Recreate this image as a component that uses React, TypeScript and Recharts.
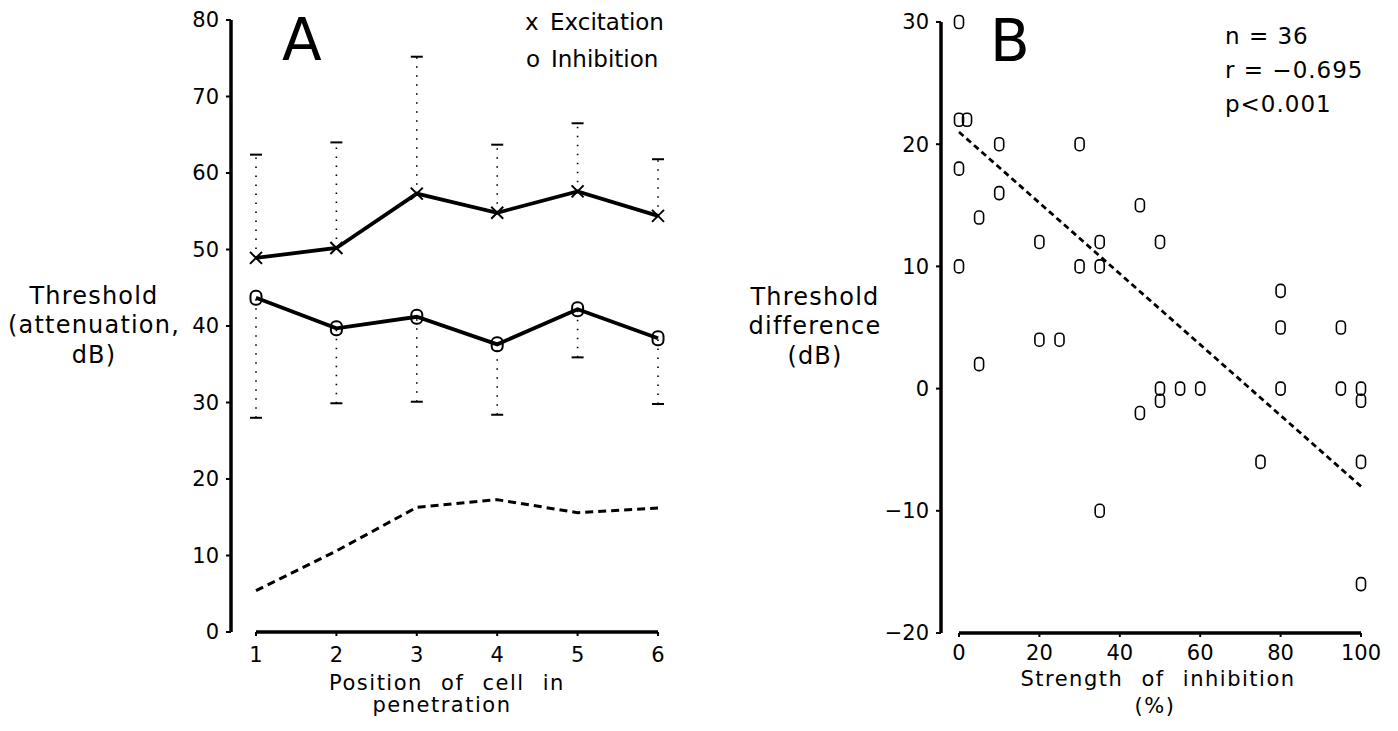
import { ComposedChart, ScatterChart, Line, Scatter, XAxis, YAxis, ErrorBar, ReferenceLine } from 'recharts'

const FONT = '"DejaVu Sans", sans-serif'
const INK = '#000'

// panel A: threshold by position of cell in penetration
const positions = [1, 2, 3, 4, 5, 6]
const excitation = [48.9, 50.2, 57.3, 54.8, 57.6, 54.4]
const excitationUpper = [62.4, 64.0, 75.2, 63.7, 66.5, 61.8]
const inhibition = [43.7, 39.7, 41.2, 37.6, 42.2, 38.4]
const inhibitionLower = [28.0, 29.9, 30.1, 28.4, 35.9, 29.8]
const dashedLine = [5.4, 10.6, 16.3, 17.3, 15.6, 16.2]
const ticksA = [0, 10, 20, 30, 40, 50, 60, 70, 80]

// panel B: threshold difference vs strength of inhibition
const strength = [0, 0, 2, 10, 30, 0, 10, 5, 45, 20, 35, 50, 0, 30, 35, 80, 80, 95, 5, 20, 25, 50, 50, 55, 60, 45, 80, 95, 100, 100, 75, 100, 35, 100]
const difference = [30, 22, 22, 20, 20, 18, 16, 14, 15, 12, 12, 12, 10, 10, 10, 8, 5, 5, 2, 4, 4, 0, -1, 0, 0, -2, 0, 0, 0, -1, -6, -6, -10, -16]
const regressionX = [0, 100]
const regressionY = [21, -8]
const ticksBx = [0, 20, 40, 60, 80, 100]
const ticksBy = [-20, -10, 0, 10, 20, 30]

const rowsA = positions.map((pos, i) => ({
  pos,
  exc: excitation[i],
  excErr: [0, excitationUpper[i] - excitation[i]],
  excTop: excitationUpper[i],
  inh: inhibition[i],
  inhErr: [inhibition[i] - inhibitionLower[i], 0],
  inhBottom: inhibitionLower[i],
  dashed: dashedLine[i],
}))

const rowsB = strength.map((x, i) => ({ x, y: difference[i] }))

const tickStyle = { fontSize: 21, fill: INK, fontFamily: FONT }
const minus = (v: number) => String(v).replace('-', '\u2212')

function CrossDot(props: any) {
  const { cx, cy, index } = props
  if (cx == null || cy == null) return <g key={`c-${index}`} />
  return (
    <g key={`c-${index}`}>
      <line x1={cx - 6} y1={cy - 6} x2={cx + 6} y2={cy + 6} stroke={INK} strokeWidth={2} />
      <line x1={cx - 6} y1={cy + 6} x2={cx + 6} y2={cy - 6} stroke={INK} strokeWidth={2} />
    </g>
  )
}

function RingDot(props: any) {
  const { cx, cy, index } = props
  if (cx == null || cy == null) return <g key={`r-${index}`} />
  return <rect key={`r-${index}`} x={cx - 5.5} y={cy - 7} width={11} height={14} rx={5} fill="none" stroke={INK} strokeWidth={2} />
}

function Cap(props: any) {
  const { cx, cy } = props
  return <line x1={cx - 6} x2={cx + 6} y1={cy} y2={cy} stroke={INK} strokeWidth={2} />
}

function ZeroMark(props: any) {
  const { cx, cy } = props
  return <rect x={cx - 4.5} y={cy - 6.5} width={9} height={13} rx={4} fill="none" stroke={INK} strokeWidth={1.6} />
}

function PanelA() {
  return (
    <ComposedChart
      width={700}
      height={731}
      data={rowsA}
      margin={{ top: 20, right: 42, bottom: 59, left: 171 }}
      style={{ position: 'absolute', left: 0, top: 0 }}
    >
      <XAxis
        type="number"
        dataKey="pos"
        domain={[1, 6]}
        ticks={positions}
        padding={{ left: 25, right: 0 }}
        axisLine={false}
        tickLine={{ stroke: INK, strokeWidth: 2 }}
        tickSize={4}
        tickMargin={11}
        height={40}
        tick={tickStyle}
      />
      <YAxis
        type="number"
        domain={[0, 80]}
        ticks={ticksA}
        width={60}
        axisLine={{ stroke: INK, strokeWidth: 3.5 }}
        tickLine={{ stroke: INK, strokeWidth: 2 }}
        tickSize={5}
        tickMargin={7}
        tick={tickStyle}
      />
      <ReferenceLine segment={[{ x: 1, y: 0 }, { x: 6, y: 0 }]} stroke={INK} strokeWidth={3.5} ifOverflow="visible" />
      <Line dataKey="dashed" type="linear" stroke={INK} strokeWidth={3} strokeDasharray="8 5" dot={false} isAnimationActive={false} />
      <Line dataKey="exc" type="linear" stroke={INK} strokeWidth={3.8} dot={CrossDot} isAnimationActive={false}>
        <ErrorBar dataKey="excErr" direction="y" width={0} stroke={INK} strokeWidth={1.6} strokeDasharray="1.5 7.5" isAnimationActive={false} />
      </Line>
      <Line dataKey="inh" type="linear" stroke={INK} strokeWidth={3.8} dot={RingDot} isAnimationActive={false}>
        <ErrorBar dataKey="inhErr" direction="y" width={0} stroke={INK} strokeWidth={1.6} strokeDasharray="1.5 7.5" isAnimationActive={false} />
      </Line>
      <Scatter dataKey="excTop" shape={Cap} isAnimationActive={false} legendType="none" />
      <Scatter dataKey="inhBottom" shape={Cap} isAnimationActive={false} legendType="none" />
    </ComposedChart>
  )
}

function PanelB() {
  const regression = regressionX.map((x, i) => ({ x, y: regressionY[i] }))
  return (
    <ScatterChart
      width={698}
      height={731}
      margin={{ top: 22, right: 37, bottom: 58, left: 181 }}
      style={{ position: 'absolute', left: 700, top: 0 }}
    >
      <XAxis
        type="number"
        dataKey="x"
        domain={[0, 100]}
        ticks={ticksBx}
        padding={{ left: 18, right: 0 }}
        axisLine={false}
        tickLine={{ stroke: INK, strokeWidth: 2 }}
        tickSize={4}
        tickMargin={8}
        height={40}
        tick={tickStyle}
      />
      <YAxis
        type="number"
        dataKey="y"
        domain={[-20, 30]}
        ticks={ticksBy}
        width={60}
        axisLine={{ stroke: INK, strokeWidth: 3.5 }}
        tickLine={{ stroke: INK, strokeWidth: 2 }}
        tickSize={5}
        tickMargin={7}
        tick={tickStyle}
        tickFormatter={minus}
      />
      <ReferenceLine segment={[{ x: 0, y: -20 }, { x: 100, y: -20 }]} stroke={INK} strokeWidth={3.5} ifOverflow="visible" />
      <ReferenceLine
        segment={[regression[0], regression[1]]}
        stroke={INK}
        strokeWidth={2.8}
        strokeDasharray="6 4"
        ifOverflow="visible"
      />
      <Scatter data={rowsB} dataKey="y" shape={ZeroMark} isAnimationActive={false} />
    </ScatterChart>
  )
}

function Annotations() {
  const t = { fontFamily: FONT, fill: INK }
  return (
    <svg width={1398} height={731} style={{ position: 'absolute', left: 0, top: 0, pointerEvents: 'none' }}>
      <text x={282} y={60} fontSize={58} {...t}>A</text>
      <text x={525} y={30} fontSize={23} {...t}>x</text>
      <text x={550} y={30} fontSize={23} {...t}>Excitation</text>
      <text x={526} y={67} fontSize={23} {...t}>o</text>
      <text x={551} y={67} fontSize={23} {...t}>Inhibition</text>

      <g fontSize={24} letterSpacing={1.2} textAnchor="middle" {...t}>
        <text x={94} y={304}>Threshold</text>
        <text x={94} y={333}>(attenuation,</text>
        <text x={94} y={363}>dB)</text>
      </g>
      <g fontSize={21} letterSpacing={1.5} wordSpacing={10} textAnchor="middle" {...t}>
        <text x={447} y={690}>Position of cell in</text>
        <text x={442} y={712}>penetration</text>
      </g>

      <text x={990} y={61} fontSize={58} {...t}>B</text>
      <g fontSize={23} letterSpacing={1} {...t}>
        <text x={1225} y={44}>n = 36</text>
        <text x={1225} y={78}>r = {'\u2212'}0.695</text>
        <text x={1225} y={112}>p&lt;0.001</text>
      </g>
      <g fontSize={24} letterSpacing={1.2} textAnchor="middle" {...t}>
        <text x={815} y={305}>Threshold</text>
        <text x={815} y={334}>difference</text>
        <text x={815} y={364}>(dB)</text>
      </g>
      <g fontSize={21} letterSpacing={1.5} wordSpacing={10} textAnchor="middle" {...t}>
        <text x={1158} y={686}>Strength of inhibition</text>
        <text x={1155} y={713}>(%)</text>
      </g>
    </svg>
  )
}

export default function App() {
  return (
    <div style={{ position: 'absolute', left: 0, top: 0, width: 1398, height: 731, background: '#fff' }}>
      <PanelA />
      <PanelB />
      <Annotations />
    </div>
  )
}
